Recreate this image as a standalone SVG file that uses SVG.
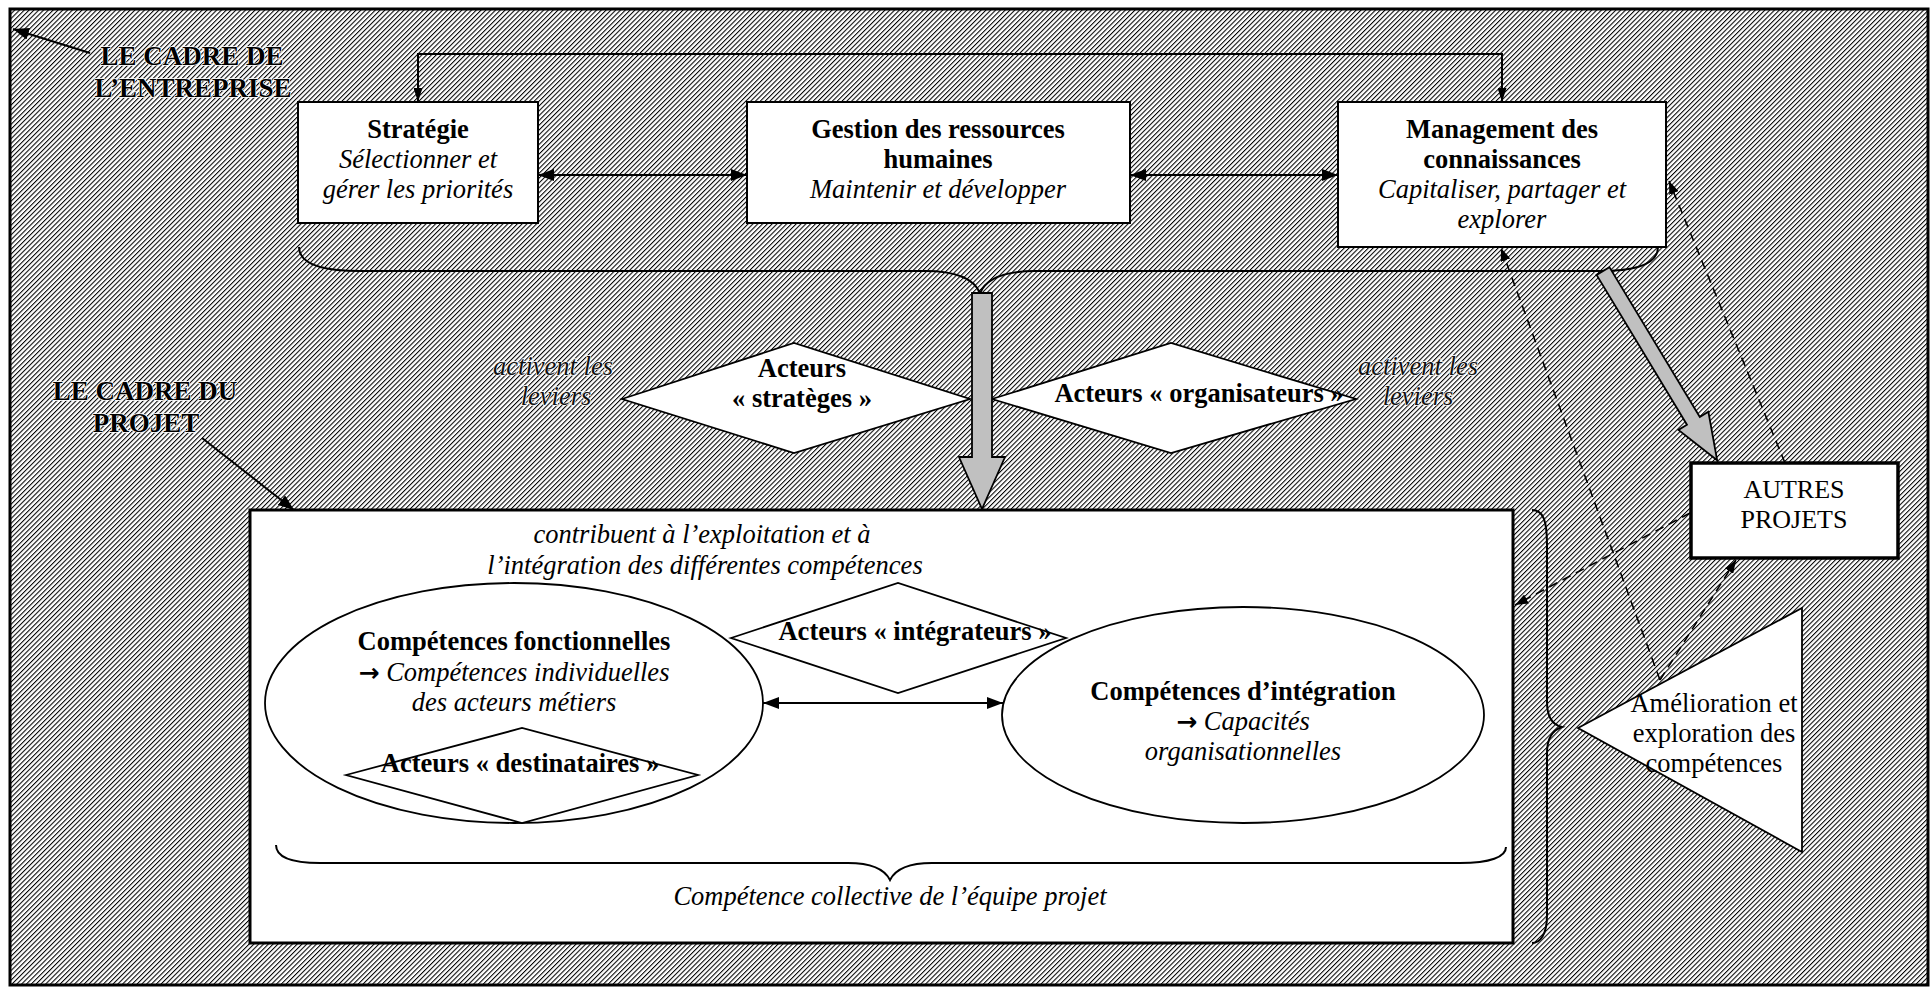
<svg xmlns="http://www.w3.org/2000/svg" width="1932" height="988" viewBox="0 0 1932 988">
<defs>
<pattern id="hatch" width="3.4" height="10" patternUnits="userSpaceOnUse" patternTransform="rotate(45)">
<rect x="0" y="0" width="1.05" height="10" fill="#000"/>
</pattern>
<marker id="ah" viewBox="0 0 16 12" refX="16" refY="6" markerWidth="16" markerHeight="12" markerUnits="userSpaceOnUse" orient="auto-start-reverse">
<path d="M0,0 L16,6 L0,12 z" fill="#000"/>
</marker>
<marker id="an" viewBox="0 0 14 9" refX="14" refY="4.5" markerWidth="14" markerHeight="9" markerUnits="userSpaceOnUse" orient="auto-start-reverse">
<path d="M0,0 L14,4.5 L0,9 z" fill="#000"/>
</marker>
<marker id="ad" viewBox="0 0 13 10" refX="13" refY="5" markerWidth="13" markerHeight="10" markerUnits="userSpaceOnUse" orient="auto">
<path d="M0,0 L13,5 L0,10 z" fill="#000"/>
</marker>
</defs>
<style>
text{font-family:"Liberation Serif","Times New Roman",serif;fill:#000;text-anchor:middle;font-size:26.5px}
.b{font-weight:bold}
.i{font-style:italic}
.ar{font-family:"DejaVu Sans",sans-serif;font-weight:bold;font-style:normal;font-size:25px}
.emb{font-weight:bold;font-size:27px;fill:#000;stroke:#fff;stroke-width:1.4px;paint-order:stroke;stroke-linejoin:round}
.embi{font-style:italic;font-size:26.5px;fill:#111;stroke:#fff;stroke-width:1.4px;paint-order:stroke;stroke-linejoin:round}
.box{fill:#fff;stroke:#000;stroke-width:2}
.shape{fill:#fff;stroke:#000;stroke-width:1.8}
.ln{fill:none;stroke:#000;stroke-width:2}
.dash{fill:none;stroke:#000;stroke-width:1.6;stroke-dasharray:9 6}
.brace{fill:none;stroke:#000;stroke-width:2}
.grey{fill:#c0c0c0;stroke:#000;stroke-width:1.8;stroke-linejoin:miter}
</style>
<rect x="0" y="0" width="1932" height="988" fill="#fff"/>
<g id="frame">
<rect x="10" y="9" width="1918" height="976" fill="url(#hatch)" stroke="#000" stroke-width="3"/>
</g>
<g id="label-entreprise">
<text class="emb" x="192" y="65">LE CADRE DE</text>
<text class="emb" x="193" y="97">L’ENTREPRISE</text>
</g>
<g id="label-projet">
<text class="emb" x="145" y="400">LE CADRE DU</text>
<text class="emb" x="146" y="432">PROJET</text>
</g>
<g id="project">
<rect x="250" y="510" width="1263" height="433" fill="#fff" stroke="#000" stroke-width="3"/>
<text class="i" x="702" y="543">contribuent à l’exploitation et à</text>
<text class="i" x="705" y="574">l’intégration des différentes compétences</text>
<text class="i" x="890" y="905">Compétence collective de l’équipe projet</text>
</g>
<g id="strategie">
<rect class="box" x="298" y="102" width="240" height="121"/>
<text class="b" x="418" y="138">Stratégie</text>
<text class="i" x="418" y="168">Sélectionner et</text>
<text class="i" x="418" y="198">gérer les priorités</text>
</g>
<g id="grh">
<rect class="box" x="747" y="102" width="383" height="121"/>
<text class="b" x="938" y="138">Gestion des ressources</text>
<text class="b" x="938" y="168">humaines</text>
<text class="i" x="938" y="198">Maintenir et développer</text>
</g>
<g id="management">
<rect class="box" x="1338" y="102" width="328" height="145"/>
<text class="b" x="1502" y="138">Management des</text>
<text class="b" x="1502" y="168">connaissances</text>
<text class="i" x="1502" y="198">Capitaliser, partager et</text>
<text class="i" x="1502" y="228">explorer</text>
</g>
<g id="autres">
<rect x="1691" y="463" width="207" height="95" fill="#fff" stroke="#000" stroke-width="3.5"/>
<text x="1794" y="498" style="font-size:26px">AUTRES</text>
<text x="1794" y="528" style="font-size:26px">PROJETS</text>
</g>
<g id="activent-left">
<text class="embi" x="553" y="375">activent les</text>
<text class="embi" x="556" y="405">leviers</text>
</g>
<g id="activent-right">
<text class="embi" x="1418" y="375">activent les</text>
<text class="embi" x="1418" y="405">leviers</text>
</g>
<g id="strateges">
<polygon class="shape" points="622,399 794,343 970,399 794,453"/>
<text class="b" x="802" y="377">Acteurs</text>
<text class="b" x="802" y="407">« stratèges »</text>
</g>
<g id="organisateurs">
<polygon class="shape" points="992,399 1171,343 1356,399 1171,453"/>
<text class="b" x="1199" y="402">Acteurs « organisateurs »</text>
</g>
<g id="fonctionnelles">
<ellipse class="shape" cx="514" cy="703" rx="249" ry="120"/>
<text class="b" x="514" y="650">Compétences fonctionnelles</text>
<text x="514" y="681"><tspan class="ar">→</tspan><tspan class="i"> Compétences individuelles</tspan></text>
<text class="i" x="514" y="711">des acteurs métiers</text>
</g>
<g id="destinataires">
<polygon class="shape" points="346,775 522,728 698,775 522,823"/>
<text class="b" x="520" y="772">Acteurs « destinataires »</text>
</g>
<g id="integration">
<ellipse class="shape" cx="1243" cy="715" rx="241" ry="108"/>
<text class="b" x="1243" y="700">Compétences d’intégration</text>
<text x="1243" y="730"><tspan class="ar">→</tspan><tspan class="i"> Capacités</tspan></text>
<text class="i" x="1243" y="760">organisationnelles</text>
</g>
<g id="integrateurs">
<polygon class="shape" points="731,638 898,583 1066,638 898,693"/>
<text class="b" x="915" y="640">Acteurs « intégrateurs »</text>
</g>
<g id="amelioration">
<polygon class="shape" points="1578,728 1802,608 1802,852"/>
<text x="1714" y="712">Amélioration et</text>
<text x="1714" y="742">exploration des</text>
<text x="1714" y="772">compétences</text>
</g>
<g id="connectors">
<line class="ln" x1="90" y1="53" x2="13" y2="29" marker-end="url(#ah)"/>
<line class="ln" x1="202" y1="438" x2="294" y2="510" marker-end="url(#ah)"/>
<path class="ln" d="M418,102 L418,54 L1502,54 L1502,102" marker-start="url(#an)" marker-end="url(#an)"/>
<line class="ln" x1="538" y1="175" x2="747" y2="175" marker-start="url(#ah)" marker-end="url(#ah)"/>
<line class="ln" x1="1130" y1="175" x2="1338" y2="175" marker-start="url(#ah)" marker-end="url(#ah)"/>
<line class="ln" x1="763" y1="703" x2="1003" y2="703" marker-start="url(#ah)" marker-end="url(#ah)"/>
<path class="brace" d="M299,247 C299,262 318,271 360,271 L925,271 C958,271 974,279 980,293 C986,279 1002,271 1035,271 L1600,271 C1640,271 1658,262 1658,247"/>
<path class="brace" d="M1532,510 C1543,510 1547,520 1547,545 L1547,702 C1547,718 1553,725 1562,727 C1553,730 1547,737 1547,753 L1547,915 C1547,935 1540,943 1532,943"/>
<path class="brace" d="M276,845 C276,857 292,863 320,863 L848,863 C874,863 885,870 890,880 C895,870 906,863 932,863 L1460,863 C1490,863 1506,857 1506,847"/>
<polygon class="grey" points="972,293 992,293 992,457 1005,457 982,509 959,457 972,457"/>
<polygon class="grey" transform="translate(1603,271) rotate(58.9)" points="0,-7.5 175,-7.5 175,-17.5 221,0 175,17.5 175,7.5 0,7.5"/>
<line class="dash" x1="1785" y1="463" x2="1669" y2="181" marker-end="url(#ad)"/>
<line class="dash" x1="1660" y1="680" x2="1501" y2="248" marker-end="url(#ad)"/>
<line class="dash" x1="1660" y1="680" x2="1736" y2="560" marker-end="url(#ad)"/>
<line class="dash" x1="1690" y1="513" x2="1515" y2="605" marker-end="url(#ad)"/>
</g>
</svg>
